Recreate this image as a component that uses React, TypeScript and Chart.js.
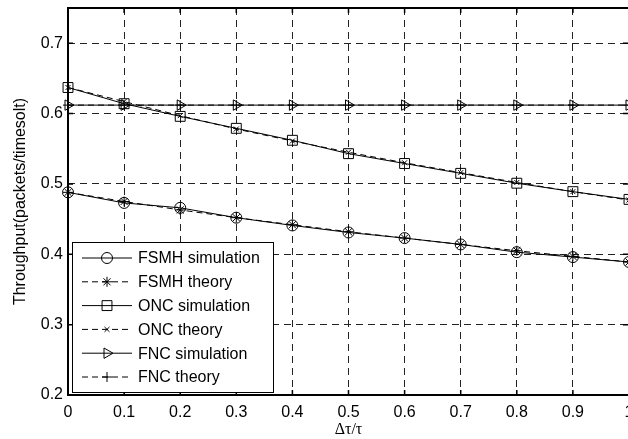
import React, { useEffect, useRef } from 'react';
import { Chart, registerables } from 'chart.js';
import { drawPoint } from 'chart.js/helpers';

Chart.register(...registerables);

// ---- data ----
const xValues = [0, 0.1, 0.2, 0.3, 0.4, 0.5, 0.6, 0.7, 0.8, 0.9, 1.0];
const fsmhSimulation = [0.488, 0.473, 0.466, 0.452, 0.441, 0.431, 0.423, 0.414, 0.403, 0.396, 0.389];
const fsmhTheory = [0.488, 0.475, 0.463, 0.452, 0.442, 0.432, 0.423, 0.414, 0.405, 0.397, 0.389];
const oncSimulation = [0.637, 0.614, 0.596, 0.579, 0.562, 0.543, 0.529, 0.515, 0.501, 0.489, 0.478];
const oncTheory = [0.637, 0.617, 0.597, 0.578, 0.561, 0.545, 0.530, 0.516, 0.502, 0.489, 0.477];
const fncSimulation = [0.612, 0.612, 0.612, 0.612, 0.612, 0.612, 0.612, 0.612, 0.612, 0.612, 0.612];
const fncTheory = [0.612, 0.612, 0.612, 0.612, 0.612, 0.612, 0.612, 0.612, 0.612, 0.612, 0.612];
const seriesLabels = ['FSMH simulation', 'FSMH theory', 'ONC simulation', 'ONC theory', 'FNC simulation', 'FNC theory'];
const xTicks = [0, 0.1, 0.2, 0.3, 0.4, 0.5, 0.6, 0.7, 0.8, 0.9, 1];
const yTicks = [0.2, 0.3, 0.4, 0.5, 0.6, 0.7];
const xTitle = 'Δτ/τ';
const yTitle = 'Throughput(packets/timesolt)';

const SANS = '"Liberation Sans", Arial, sans-serif';
const SERIF = '"Liberation Serif", "Times New Roman", serif';

const fmt = (v: number) => String(Math.round(v * 10) / 10);

export default function App() {
  const ref = useRef<HTMLCanvasElement>(null);

  useEffect(() => {
    const mk = (vals: number[]) => xValues.map((x, i) => ({ x, y: vals[i] }));
    const base = {
      borderColor: '#000',
      borderWidth: 1,
      pointBorderColor: '#000',
      pointBackgroundColor: 'rgba(0,0,0,0)',
      pointBorderWidth: 1,
      fill: false,
      clip: false as any,
      tension: 0,
    };
    const styles = [
      { pointStyle: 'circle', pointRadius: 5.5, borderDash: [] as number[], pointRotation: 0 },
      { pointStyle: 'star', pointRadius: 5, borderDash: [6, 4], pointRotation: 0 },
      { pointStyle: 'rect', pointRadius: 7, borderDash: [] as number[], pointRotation: 0 },
      { pointStyle: 'crossRot', pointRadius: 3.5, borderDash: [6, 4], pointRotation: 0 },
      { pointStyle: 'triangle', pointRadius: 6, borderDash: [] as number[], pointRotation: 90 },
      { pointStyle: 'cross', pointRadius: 5, borderDash: [6, 4], pointRotation: 0 },
    ];
    const values = [fsmhSimulation, fsmhTheory, oncSimulation, oncTheory, fncSimulation, fncTheory];
    const datasets = values.map((v, i) => ({
      ...base,
      ...styles[i],
      label: seriesLabels[i],
      data: mk(v),
    }));

    const framePlugin = {
      id: 'frameAndLegend',
      beforeDatasetsDraw(chart: any) {
        const { ctx, chartArea } = chart;
        const { left, top, right, bottom } = chartArea;
        const xs = chart.scales.x;
        const ys = chart.scales.y;
        ctx.save();
        ctx.strokeStyle = '#000';
        ctx.lineWidth = 2;
        ctx.beginPath();
        ctx.moveTo(right + 2, top);
        ctx.lineTo(left, top);
        ctx.lineTo(left, bottom);
        ctx.lineTo(right + 2, bottom);
        ctx.stroke();
        ctx.lineWidth = 1.5;
        ctx.beginPath();
        xTicks.forEach((v) => {
          const px = xs.getPixelForValue(v);
          ctx.moveTo(px, top);
          ctx.lineTo(px, top + 5);
          ctx.moveTo(px, bottom);
          ctx.lineTo(px, bottom - 5);
        });
        yTicks.forEach((v) => {
          const py = ys.getPixelForValue(v);
          ctx.moveTo(left, py);
          ctx.lineTo(left + 5, py);
          ctx.moveTo(right - 1, py);
          ctx.lineTo(right - 6, py);
        });
        ctx.stroke();
        ctx.restore();
      },
      afterDraw(chart: any) {
        const { ctx, chartArea } = chart;
        const bx = chartArea.left + 4;
        const bw = 201;
        const bh = 150;
        const by = chartArea.bottom - 3 - bh;
        ctx.save();
        ctx.fillStyle = '#fff';
        ctx.fillRect(bx, by, bw, bh);
        ctx.strokeStyle = '#000';
        ctx.lineWidth = 1;
        ctx.strokeRect(bx + 0.5, by + 0.5, bw, bh);
        const rowH = 23.8;
        ctx.font = `16px ${SANS}`;
        ctx.textBaseline = 'middle';
        ctx.textAlign = 'left';
        datasets.forEach((ds: any, i: number) => {
          const cy = by + 16 + i * rowH;
          ctx.strokeStyle = '#000';
          ctx.lineWidth = 1;
          ctx.setLineDash(ds.borderDash);
          ctx.beginPath();
          ctx.moveTo(bx + 10, cy);
          ctx.lineTo(bx + 60, cy);
          ctx.stroke();
          ctx.setLineDash([]);
          ctx.fillStyle = 'rgba(0,0,0,0)';
          drawPoint(ctx, {
            pointStyle: ds.pointStyle,
            radius: ds.pointRadius,
            rotation: ds.pointRotation,
            borderWidth: 1,
          } as any, bx + 35, cy);
          ctx.fillStyle = '#000';
          ctx.fillText(ds.label, bx + 66, cy + 1);
        });
        ctx.restore();
      },
    };

    const chart = new Chart(ref.current as HTMLCanvasElement, {
      type: 'line',
      data: { datasets: datasets as any },
      options: {
        responsive: false,
        animation: false,
        devicePixelRatio: 1,
        layout: { autoPadding: false, padding: { top: 8, left: 0, right: 0, bottom: 0 } },
        plugins: {
          legend: { display: false },
          tooltip: { enabled: false },
        },
        scales: {
          x: {
            type: 'linear',
            min: 0,
            max: 1,
            afterBuildTicks: (s: any) => {
              s.ticks = xTicks.map((v) => ({ value: v }));
            },
            afterFit: (s: any) => {
              s.height = 44;
              s.paddingLeft = 0;
              s.paddingRight = 0;
            },
            ticks: {
              callback: (v: any) => fmt(Number(v)),
              color: '#000',
              font: { size: 16, family: SANS },
              padding: 8,
              maxRotation: 0,
              autoSkip: false,
            },
            grid: { color: '#222', lineWidth: 1, drawTicks: false },
            border: { display: false, dash: [7, 5] },
            title: {
              display: true,
              text: xTitle,
              color: '#000',
              font: { size: 16, family: SERIF },
              padding: { top: 2, bottom: 0 },
            },
          },
          y: {
            type: 'linear',
            min: 0.2,
            max: 0.75,
            afterBuildTicks: (s: any) => {
              s.ticks = yTicks.map((v) => ({ value: v }));
            },
            afterFit: (s: any) => {
              s.width = 68;
              s.paddingTop = 0;
              s.paddingBottom = 0;
            },
            ticks: {
              callback: (v: any) => fmt(Number(v)),
              color: '#000',
              font: { size: 16, family: SANS },
              padding: 5,
              autoSkip: false,
            },
            grid: { color: '#222', lineWidth: 1, drawTicks: false },
            border: { display: false, dash: [7, 5] },
            title: {
              display: true,
              text: yTitle,
              color: '#000',
              font: { size: 16, family: SANS },
              padding: { top: 11, bottom: 0 },
            },
          },
        },
      } as any,
      plugins: [framePlugin],
    });
    return () => chart.destroy();
  }, []);

  return (
    <div style={{ position: 'fixed', left: 0, top: 0, width: 628, height: 439, overflow: 'hidden', background: '#fff' }}>
      <canvas ref={ref} width={629} height={439} style={{ display: 'block' }} />
    </div>
  );
}
